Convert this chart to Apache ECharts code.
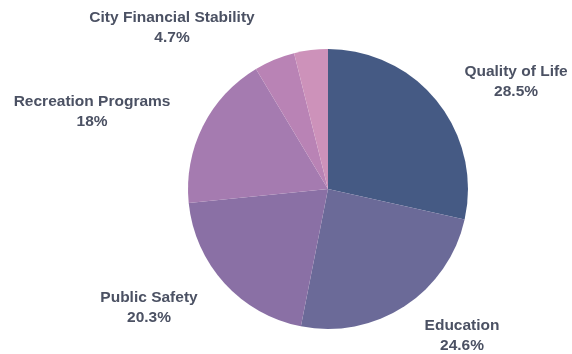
<!DOCTYPE html>
<html>
<head>
<meta charset="utf-8">
<script src="https://cdn.jsdelivr.net/npm/echarts@6/dist/echarts.min.js"></script>
<style>
  html, body { margin: 0; padding: 0; background: #ffffff; }
  #chart { width: 572px; height: 354px; }
</style>
</head>
<body>
<div id="chart"></div>
<script>
// Budget priorities, share of responses (%)
const categories = ['Quality of Life', 'Education', 'Public Safety', 'Recreation Programs', 'City Financial Stability', 'Other'];
const shares = [28.5, 24.6, 20.3, 18, 4.7, 3.9];
const showLabel = [true, true, true, true, true, false];

const sliceColors = ['#455a84', '#6b6a98', '#8a70a5', '#a57bb0', '#b983b5', '#cd92ba'];

// Label spots around the pie: [angle clockwise from top in degrees, distance in radii]
const labelSpots = [[60.4, 1.545], [137.6, 1.42], [236.4, 1.535], [288.1, 1.773], [315.9, 1.601], [0, 1.5]];

const CX = 328, CY = 189, R = 140;

const chart = echarts.init(document.getElementById('chart'), null, { renderer: 'canvas' });

chart.setOption({
  backgroundColor: '#ffffff',
  animation: false,
  series: [{
    type: 'pie',
    center: [CX, CY],
    radius: R,
    startAngle: 90,
    clockwise: true,
    avoidLabelOverlap: false,
    data: categories.map((name, i) => ({
      name,
      value: shares[i],
      itemStyle: { color: sliceColors[i] },
      label: { show: showLabel[i] }
    })),
    itemStyle: { borderWidth: 0 },
    label: {
      position: 'outside',
      formatter: p => p.name + '\n' + p.value + '%',
      fontFamily: 'Liberation Sans',
      fontWeight: 'bold',
      fontSize: 15.5,
      lineHeight: 20,
      color: '#4b5163',
      align: 'center'
    },
    labelLine: { show: false },
    labelLayout: function (params) {
      const s = labelSpots[params.dataIndex];
      const a = s[0] * Math.PI / 180;
      return {
        x: CX + Math.sin(a) * R * s[1],
        y: CY - Math.cos(a) * R * s[1],
        align: 'center',
        verticalAlign: 'middle'
      };
    },
    emphasis: { disabled: true }
  }]
});
</script>
</body>
</html>
